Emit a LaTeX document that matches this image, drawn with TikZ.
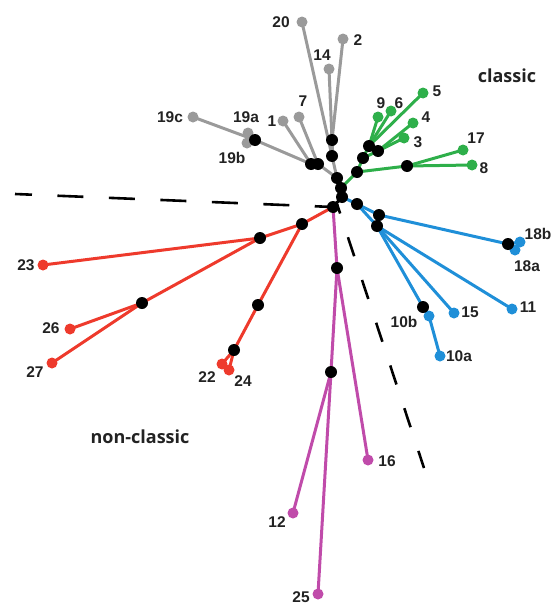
\documentclass[tikz,border=0pt]{standalone}
\usepackage{fontspec}
\setmainfont{Liberation Sans}
\newfontfamily\regionfont{Open Sans}
\definecolor{brgray}{HTML}{9A9A9A}
\definecolor{brgreen}{HTML}{2EAF4A}
\definecolor{brblue}{HTML}{1F8FD8}
\definecolor{brred}{HTML}{EE3A2C}
\definecolor{brpurple}{HTML}{C04BAA}
\definecolor{labtext}{HTML}{222222}
\tikzset{
  branch/.style={line width=3pt, line cap=round},
  junction/.style={circle, fill=black, inner sep=0pt, minimum size=12pt},
  leaf/.style={circle, fill=#1, inner sep=0pt, minimum size=11pt},
  lab/.style={text=labtext, font=\fontsize{15.5}{18}\selectfont\bfseries, inner sep=0pt},
  region/.style={text=labtext, font=\regionfont\fontsize{18}{21}\selectfont\bfseries, inner sep=0pt},
  divider/.style={line width=2.6pt, black}
}
\begin{document}
\begin{tikzpicture}[x=1pt,y=-1pt]
\useasboundingbox (0,0) rectangle (555,605);

% ---------- positions ----------
% root chain
\coordinate (r0) at (333,207);
\coordinate (r1) at (342,197);
\coordinate (r2) at (341,188);
% gray clade
\coordinate (g0) at (337,178);
\coordinate (g1) at (332,156);
\coordinate (g2) at (332,140);
\coordinate (g3) at (318,164);
\coordinate (g4) at (311,164);
\coordinate (g5) at (255,140);
\coordinate (t20) at (302,22);
\coordinate (t2) at (343,39);
\coordinate (t14) at (329,69);
\coordinate (t7) at (299,117);
\coordinate (t1) at (283,121);
\coordinate (t19c) at (193,117);
\coordinate (t19a) at (248,133);
\coordinate (t19b) at (247,143);
% green clade
\coordinate (c0) at (357,172);
\coordinate (c1) at (363,158);
\coordinate (c2) at (369,146);
\coordinate (c3) at (378,151);
\coordinate (c4) at (407,166);
\coordinate (t9) at (378,117);
\coordinate (t6) at (391,111);
\coordinate (t5) at (423,93);
\coordinate (t4) at (413,123);
\coordinate (t3) at (404,138);
\coordinate (t17) at (463,150);
\coordinate (t8) at (472,165);
% blue clade
\coordinate (b0) at (357,204);
\coordinate (b1) at (379,215);
\coordinate (b2) at (377,226);
\coordinate (b3) at (508,244);
\coordinate (b4) at (423,307);
\coordinate (t18b) at (520,242);
\coordinate (t18a) at (515,250);
\coordinate (t11) at (512,309);
\coordinate (t15) at (454,313);
\coordinate (t10b) at (429,316);
\coordinate (t10a) at (440,356);
% red clade
\coordinate (e1) at (302,224);
\coordinate (e2) at (260,238);
\coordinate (e3) at (142,303);
\coordinate (e4) at (258,305);
\coordinate (e5) at (234,350);
\coordinate (t23) at (43,265);
\coordinate (t26) at (70,329);
\coordinate (t27) at (52,363);
\coordinate (t22) at (222,364);
\coordinate (t24) at (229,370);
% purple clade
\coordinate (p1) at (337,268);
\coordinate (p2) at (331,372);
\coordinate (t16) at (368,460);
\coordinate (t12) at (293,513);
\coordinate (t25) at (318,594);

% ---------- dividing lines ----------
\coordinate (h0) at (15,194);
\coordinate (d0) at (337,204);
\coordinate (d1) at (424,468);
\draw[divider, dash pattern=on 26pt off 25.5pt, dash phase=9pt] (h0) -- (r0);
\draw[divider, dash pattern=on 20pt off 25pt, dash phase=10pt] (d0) -- (d1);

% ---------- branches ----------
\foreach \a/\b in {r0/r1, r1/r2}
  \draw[branch, black] (\a) -- (\b);
\foreach \a/\b in {r2/g0, g0/g1, g1/g2, g1/t20, g2/t14, g2/t2, g0/g3, g3/g4,
                   g3/t7, g4/t1, g4/g5, g5/t19c, g5/t19a, g5/t19b}
  \draw[branch, brgray] (\a) -- (\b);
\foreach \a/\b in {r2/c0, c0/c1, c1/c2, c1/c3, c2/t9, c2/t6, c2/t5, c3/t4, c3/t3,
                   c0/c4, c4/t17, c4/t8}
  \draw[branch, brgreen] (\a) -- (\b);
\foreach \a/\b in {r1/b0, b0/b1, b0/b2, b1/b3, b3/t18a, b3/t18b, b2/t11, b2/t15,
                   b2/b4, b4/t10b, t10b/t10a}
  \draw[branch, brblue] (\a) -- (\b);
\foreach \a/\b in {r0/e1, e1/e2, e2/t23, e2/e3, e3/t26, e3/t27, e1/e4, e4/e5,
                   e5/t22, e5/t24}
  \draw[branch, brred] (\a) -- (\b);
\foreach \a/\b in {r0/p1, p1/p2, p1/t16, p2/t12, p2/t25}
  \draw[branch, brpurple] (\a) -- (\b);

% ---------- leaf dots ----------
\foreach \t in {t20,t2,t14,t7,t1,t19c,t19a,t19b}
  \node[leaf=brgray] (n\t) at (\t) {};
\foreach \t in {t9,t6,t5,t4,t3,t17,t8}
  \node[leaf=brgreen] (n\t) at (\t) {};
\foreach \t in {t18a,t18b,t11,t15,t10b,t10a}
  \node[leaf=brblue] (n\t) at (\t) {};
\foreach \t in {t23,t26,t27,t22,t24}
  \node[leaf=brred] (n\t) at (\t) {};
\foreach \t in {t16,t12,t25}
  \node[leaf=brpurple] (n\t) at (\t) {};

% ---------- internal junctions ----------
\foreach \j in {r0,r1,r2,g0,g1,g2,g3,g4,g5,c0,c1,c2,c3,c4,b0,b1,b2,b3,b4,
                e1,e2,e3,e4,e5,p1,p2}
  \node[junction] (n\j) at (\j) {};

% ---------- leaf labels ----------
\node[lab] (l20) at (281,22) {20};
\node[lab] (l2) at (358,40) {2};
\node[lab] (l14) at (322,55) {14};
\node[lab] (l7) at (303,101) {7};
\node[lab] (l1) at (272,121) {1};
\node[lab] (l19c) at (170,117) {19c};
\node[lab] (l19a) at (246,117) {19a};
\node[lab] (l19b) at (232,158) {19b};
\node[lab] (l9) at (381,103) {9};
\node[lab] (l6) at (399,103) {6};
\node[lab] (l5) at (437,91) {5};
\node[lab] (l4) at (426,117) {4};
\node[lab] (l3) at (418,142) {3};
\node[lab] (l17) at (476,138) {17};
\node[lab] (l8) at (484,168) {8};
\node[lab] (l18b) at (538,234) {18b};
\node[lab] (l18a) at (527,266) {18a};
\node[lab] (l11) at (528,307) {11};
\node[lab] (l15) at (470,312) {15};
\node[lab] (l10b) at (404,322) {10b};
\node[lab] (l10a) at (459,356) {10a};
\node[lab] (l23) at (26,265) {23};
\node[lab] (l26) at (51,328) {26};
\node[lab] (l27) at (35,372) {27};
\node[lab] (l22) at (207,377) {22};
\node[lab] (l24) at (243,381) {24};
\node[lab] (l16) at (387,461) {16};
\node[lab] (l12) at (277,522) {12};
\node[lab] (l25) at (301,597) {25};

% ---------- region names ----------
\node[region] (classic) at (507,76) {classic};
\node[region] (nonclassic) at (140,437) {non-classic};
\end{tikzpicture}
\end{document}
